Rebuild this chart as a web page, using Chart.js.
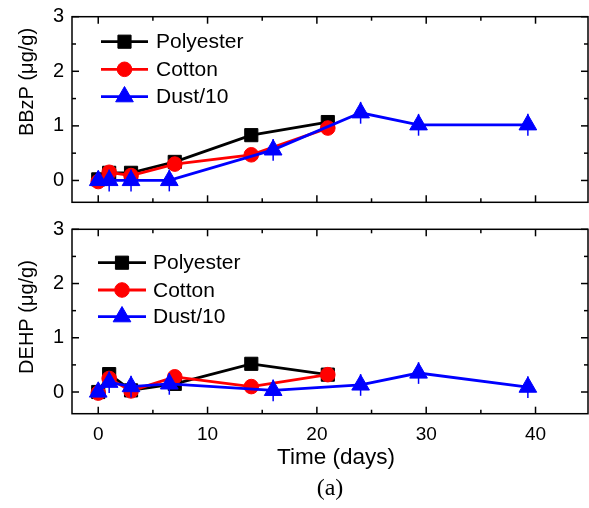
<!DOCTYPE html>
<html>
<head>
<meta charset="utf-8">
<script src="https://cdn.jsdelivr.net/npm/chart.js@4.4.1/dist/chart.umd.min.js"></script>
<style>
html,body{margin:0;padding:0;background:#fff;}
#wrap{position:relative;width:589px;height:508px;overflow:hidden;background:#fff;}
#c1{position:absolute;left:0;top:0;}
#c2{position:absolute;left:0;top:215px;}
#cap{position:absolute;left:0;width:660px;top:473px;line-height:28px;text-align:center;font-size:24px;font-family:'Liberation Serif','Times New Roman',serif;color:#000;}
</style>
</head>
<body>
<div id="wrap">
<canvas id="c1" width="589" height="215"></canvas>
<canvas id="c2" width="589" height="293"></canvas>
<div id="cap">(a)</div>
</div>
<script>
// ---- data ----
const xTickLabels = [0, 10, 20, 30, 40];
const xMinorTicks = [5, 15, 25, 35];
const yTickLabels = [0, 1, 2, 3];
const yMinorTicks = [0.5, 1.5, 2.5];
const seriesNames = ['Polyester', 'Cotton', 'Dust/10'];
const fabricDays = [0, 1, 3, 7, 14, 21];
const dustDays = [0, 1, 3, 6.5, 16, 24, 29.3, 39.3];

const bbzpPolyester = [0.02, 0.14, 0.14, 0.34, 0.83, 1.07];
const bbzpCotton = [-0.02, 0.15, 0.09, 0.30, 0.47, 0.96];
const bbzpDust = [0, 0, 0, 0, 0.56, 1.24, 1.02, 1.02];
const bbzpDustErr = [0.05, 0.2, 0.2, 0.2, 0.2, 0.2, 0.2, 0.2];

const dehpPolyester = [0, 0.33, 0.03, 0.15, 0.52, 0.32];
const dehpCotton = [-0.02, 0.25, 0.02, 0.28, 0.10, 0.32];
const dehpDust = [0, 0.18, 0.10, 0.15, 0.03, 0.13, 0.35, 0.09];
const dehpDustErr = [0.05, 0.2, 0.2, 0.2, 0.2, 0.2, 0.2, 0.2];

// ---- styling ----
const FONT = "'Liberation Sans', Arial, Helvetica, sans-serif";
Chart.defaults.font.family = FONT;
Chart.defaults.color = '#000';
const styles = [
  {color: '#000000', pointStyle: 'rect', radius: 9.3, order: 3},
  {color: '#ff0000', pointStyle: 'circle', radius: 7.3, order: 2},
  {color: '#0000ff', pointStyle: 'triangle', radius: 10.2, order: 1}
];

function pts(xs, ys) { return xs.map((x, i) => ({x: x, y: ys[i]})); }

function makeDatasets(poly, cotton, dust, dustErr) {
  const sets = [pts(fabricDays, poly), pts(fabricDays, cotton), pts(dustDays, dust)];
  return sets.map((d, i) => ({
    label: seriesNames[i],
    data: d,
    showLine: true,
    borderColor: styles[i].color,
    backgroundColor: styles[i].color,
    borderWidth: 2.8,
    pointStyle: styles[i].pointStyle,
    pointRadius: styles[i].radius,
    pointBorderWidth: 1,
    pointBackgroundColor: styles[i].color,
    pointBorderColor: styles[i].color,
    order: styles[i].order,
    clip: false,
    errors: i === 2 ? dustErr : null
  }));
}

function drawMarker(ctx, style, r, x, y, color) {
  ctx.save();
  ctx.fillStyle = color; ctx.strokeStyle = color; ctx.lineWidth = 1;
  ctx.beginPath();
  if (style === 'rect') {
    const s = Math.SQRT1_2 * r;
    ctx.rect(x - s, y - s, 2 * s, 2 * s);
  } else if (style === 'circle') {
    ctx.arc(x, y, r, 0, Math.PI * 2);
  } else {
    ctx.moveTo(x, y - r);
    ctx.lineTo(x + r * Math.sin(2 * Math.PI / 3), y - r * Math.cos(2 * Math.PI / 3));
    ctx.lineTo(x + r * Math.sin(4 * Math.PI / 3), y - r * Math.cos(4 * Math.PI / 3));
    ctx.closePath();
  }
  ctx.fill(); ctx.stroke();
  ctx.restore();
}

const panelPlugin = {
  id: 'panelDecor',
  afterDatasetsDraw(chart, args, opts) {
    const ctx = chart.ctx, a = chart.chartArea;
    const xs = chart.scales.x, ys = chart.scales.y;
    // error bars
    chart.data.datasets.forEach((ds) => {
      if (!ds.errors) return;
      ctx.save();
      ctx.strokeStyle = ds.borderColor; ctx.lineWidth = 1.5;
      ds.data.forEach((p, j) => {
        const e = ds.errors[j];
        if (!e) return;
        const px = xs.getPixelForValue(p.x);
        ctx.beginPath();
        ctx.moveTo(px, ys.getPixelForValue(p.y - e));
        ctx.lineTo(px, ys.getPixelForValue(p.y + e));
        ctx.stroke();
      });
      ctx.restore();
    });
    // frame
    ctx.save();
    ctx.strokeStyle = '#000'; ctx.lineWidth = 1.5;
    ctx.strokeRect(a.left, a.top, a.right - a.left, a.bottom - a.top);
    const seg = (x1, y1, x2, y2) => { ctx.beginPath(); ctx.moveTo(x1, y1); ctx.lineTo(x2, y2); ctx.stroke(); };
    const major = 7, minor = 4;
    xTickLabels.forEach(v => { const p = xs.getPixelForValue(v); seg(p, a.bottom, p, a.bottom - major); seg(p, a.top, p, a.top + major); });
    xMinorTicks.forEach(v => { const p = xs.getPixelForValue(v); seg(p, a.bottom, p, a.bottom - minor); seg(p, a.top, p, a.top + minor); });
    yTickLabels.forEach(v => { const p = ys.getPixelForValue(v); seg(a.left, p, a.left + major, p); seg(a.right, p, a.right - major, p); });
    yMinorTicks.forEach(v => { const p = ys.getPixelForValue(v); seg(a.left, p, a.left + minor, p); seg(a.right, p, a.right - minor, p); });
    ctx.restore();
    // y title
    ctx.save();
    ctx.fillStyle = '#000';
    ctx.font = '20px ' + FONT;
    ctx.translate(opts.titleX, opts.titleY);
    ctx.rotate(-Math.PI / 2);
    ctx.textAlign = 'center'; ctx.textBaseline = 'alphabetic';
    ctx.fillText(opts.title, 0, 0);
    ctx.restore();
    // x title
    if (opts.xTitle) {
      ctx.save();
      ctx.fillStyle = '#000';
      ctx.font = '22.5px ' + FONT;
      ctx.textAlign = 'center'; ctx.textBaseline = 'middle';
      ctx.fillText(opts.xTitle, opts.xTitleX, opts.xTitleY);
      ctx.restore();
    }
    // legend
    ctx.save();
    chart.data.datasets.forEach((ds, i) => {
      const y = opts.legendRows[i];
      ctx.strokeStyle = ds.borderColor; ctx.lineWidth = 2.8;
      ctx.beginPath(); ctx.moveTo(opts.lineX1, y); ctx.lineTo(opts.lineX2, y); ctx.stroke();
      drawMarker(ctx, ds.pointStyle, ds.pointRadius, (opts.lineX1 + opts.lineX2) / 2, y, ds.borderColor);
      ctx.fillStyle = '#000';
      ctx.font = '21px ' + FONT;
      ctx.textAlign = 'left'; ctx.textBaseline = 'middle';
      ctx.fillText(ds.label, opts.textX, y + 1);
    });
    ctx.restore();
  }
};

function makeChart(canvas, datasets, cfg) {
  return new Chart(canvas, {
    type: 'scatter',
    data: {datasets: datasets},
    plugins: [panelPlugin],
    options: {
      responsive: false,
      animation: false,
      devicePixelRatio: 1,
      layout: {autoPadding: false, padding: {left: 0, right: 1, top: cfg.padTop, bottom: cfg.padBottom}},
      plugins: {
        legend: {display: false},
        tooltip: {enabled: false},
        panelDecor: cfg.decor
      },
      scales: {
        x: {
          type: 'linear', min: -2.4, max: 44.8,
          display: cfg.showX,
          grid: {display: false, drawTicks: false},
          border: {display: false},
          afterBuildTicks: s => { s.ticks = xTickLabels.map(v => ({value: v})); },
          afterFit: s => { if (cfg.showX) s.height = cfg.xHeight; s.paddingLeft = 0; s.paddingRight = 0; },
          ticks: {font: {size: 19}, color: '#000', padding: 10, maxRotation: 0, autoSkip: false},
          title: {display: false}
        },
        y: {
          type: 'linear', min: -0.4, max: 3,
          grid: {display: false, drawTicks: false},
          border: {display: false},
          afterBuildTicks: s => { s.ticks = yTickLabels.map(v => ({value: v})); },
          afterFit: s => { s.width = 72; s.paddingTop = 0; s.paddingBottom = 0; },
          ticks: {font: {size: 20}, color: '#000', padding: 8}
        }
      }
    }
  });
}

makeChart(document.getElementById('c1'),
  makeDatasets(bbzpPolyester, bbzpCotton, bbzpDust, bbzpDustErr),
  {padTop: 16.7, padBottom: 12.7, showX: false, xHeight: 0,
   decor: {title: 'BBzP (\u03bcg/g)', titleX: 33, titleY: 82,
           legendRows: [41.7, 69.3, 96.7], lineX1: 101, lineX2: 148, textX: 156}});

makeChart(document.getElementById('c2'),
  makeDatasets(dehpPolyester, dehpCotton, dehpDust, dehpDustErr),
  {padTop: 14.3, padBottom: 0, showX: true, xHeight: 94.3,
   decor: {title: 'DEHP (\u03bcg/g)', titleX: 33, titleY: 102,
           xTitle: 'Time (days)', xTitleX: 336, xTitleY: 243,
           legendRows: [47.7, 75, 101.7], lineX1: 98, lineX2: 146, textX: 153}});
</script>
</body>
</html>
